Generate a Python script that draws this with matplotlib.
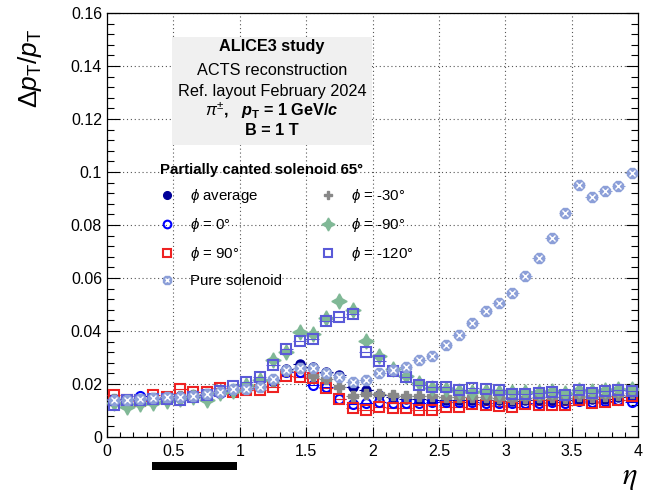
import numpy as np
import matplotlib
matplotlib.use("Agg")
import matplotlib.pyplot as plt
from matplotlib.ticker import MultipleLocator, FuncFormatter
from matplotlib.patches import Rectangle

plt.rcParams['font.family'] = ['Liberation Sans', 'DejaVu Sans']
plt.rcParams['mathtext.fontset'] = 'custom'
plt.rcParams['mathtext.rm'] = 'Liberation Sans'
plt.rcParams['mathtext.it'] = 'Liberation Sans:italic'
plt.rcParams['mathtext.bf'] = 'Liberation Sans:bold'
plt.rcParams['mathtext.bfit'] = 'Liberation Sans:italic:bold'

# ---- data: dpT/pT vs eta (bin centres) ----
eta = np.arange(40) * 0.1 + 0.05

phi_avg = [0.0142, 0.0140, 0.0145, 0.0148, 0.0150, 0.0155, 0.0160, 0.0163, 0.0170, 0.0178,
           0.0183, 0.0193, 0.0215, 0.0255, 0.0275, 0.0265, 0.0245, 0.0235, 0.0190, 0.0178,
           0.0160, 0.0150, 0.0145, 0.0142, 0.0140, 0.0140, 0.0138, 0.0140, 0.0140, 0.0138,
           0.0135, 0.0140, 0.0140, 0.0140, 0.0138, 0.0145, 0.0142, 0.0145, 0.0150, 0.0150]
phi_0 = [0.0145, 0.0140, 0.0153, 0.0145, 0.0148, 0.0150, 0.0158, 0.0160, 0.0165, 0.0175,
         0.0180, 0.0188, 0.0210, 0.0245, 0.0245, 0.0198, 0.0190, 0.0142, 0.0125, 0.0127,
         0.0131, 0.0128, 0.0127, 0.0130, 0.0131, 0.0131, 0.0132, 0.0131, 0.0128, 0.0130,
         0.0128, 0.0130, 0.0130, 0.0132, 0.0130, 0.0135, 0.0133, 0.0135, 0.0138, 0.0131]
phi_90 = [0.0160, 0.0140, 0.0135, 0.0160, 0.0152, 0.0180, 0.0170, 0.0170, 0.0186, 0.0170,
          0.0177, 0.0177, 0.0188, 0.0231, 0.0225, 0.0223, 0.0185, 0.0144, 0.0110, 0.0100,
          0.0113, 0.0110, 0.0110, 0.0100, 0.0100, 0.0113, 0.0113, 0.0123, 0.0122, 0.0118,
          0.0113, 0.0125, 0.0120, 0.0121, 0.0121, 0.0138, 0.0128, 0.0131, 0.0140, 0.0156]
phi_m30 = [0.0142, 0.0141, 0.0145, 0.0148, 0.0150, 0.0155, 0.0160, 0.0163, 0.0170, 0.0178,
           0.0183, 0.0192, 0.0210, 0.0250, 0.0262, 0.0230, 0.0220, 0.0190, 0.0156, 0.0164,
           0.0163, 0.0160, 0.0156, 0.0155, 0.0156, 0.0151, 0.0150, 0.0152, 0.0150, 0.0148,
           0.0145, 0.0148, 0.0150, 0.0150, 0.0148, 0.0155, 0.0152, 0.0155, 0.0160, 0.0165]
phi_m90 = [0.0130, 0.0113, 0.0125, 0.0130, 0.0135, 0.0145, 0.0150, 0.0140, 0.0165, 0.0175,
           0.0195, 0.0215, 0.0290, 0.0320, 0.0398, 0.0388, 0.0450, 0.0513, 0.0478, 0.0363,
           0.0306, 0.0255, 0.0230, 0.0203, 0.0185, 0.0180, 0.0175, 0.0170, 0.0172, 0.0168,
           0.0168, 0.0170, 0.0168, 0.0172, 0.0165, 0.0178, 0.0172, 0.0178, 0.0182, 0.0180]
phi_m120 = [0.0120, 0.0138, 0.0140, 0.0142, 0.0145, 0.0140, 0.0152, 0.0160, 0.0172, 0.0194,
            0.0207, 0.0226, 0.0270, 0.0332, 0.0362, 0.0370, 0.0436, 0.0454, 0.0463, 0.0319,
            0.0288, 0.0250, 0.0225, 0.0195, 0.0188, 0.0188, 0.0176, 0.0186, 0.0182, 0.0178,
            0.0163, 0.0163, 0.0166, 0.0168, 0.0159, 0.0178, 0.0166, 0.0174, 0.0179, 0.0174]
pure_sol = [0.0139, 0.0141, 0.0143, 0.0146, 0.0150, 0.0152, 0.0156, 0.0163, 0.0169, 0.0180,
            0.0182, 0.0188, 0.0218, 0.0253, 0.0262, 0.0261, 0.0241, 0.0226, 0.0206, 0.0214,
            0.0240, 0.0251, 0.0266, 0.0289, 0.0307, 0.0348, 0.0385, 0.0430, 0.0475, 0.0506,
            0.0545, 0.0608, 0.0674, 0.0750, 0.0844, 0.0951, 0.0904, 0.0928, 0.0948, 0.0995]

fig = plt.figure(figsize=(6.48, 4.94), dpi=100)
ax = fig.add_axes([0.165, 0.1154, 0.82, 0.8583])

ex = 0.05
kw = dict(xerr=ex, linestyle='none', elinewidth=0.8, capsize=0)

h_avg = ax.errorbar(eta, phi_avg, marker='o', ms=6.5, mfc='#000099', mec='#000099',
                    ecolor='#000099', zorder=3, **kw)
h_0 = ax.errorbar(eta, phi_0, marker='o', ms=6.5, mfc='none', mec='#0000ff', mew=1.5,
                  ecolor='#0000ff', zorder=3, **kw)
h_90 = ax.errorbar(eta, phi_90, marker='s', ms=7, mfc='none', mec='#ee2222', mew=1.5,
                   ecolor='#ee2222', zorder=3, **kw)
h_m30 = ax.errorbar(eta, phi_m30, marker='P', ms=7.5, mfc='#888888', mec='#888888',
                    ecolor='#888888', zorder=3, **kw)
h_m90 = ax.errorbar(eta, phi_m90, marker=(4, 1, 0), ms=11, mfc='#80b896', mec='#80b896',
                    ecolor='#80b896', zorder=3, **kw)
h_m120 = ax.errorbar(eta, phi_m120, marker='s', ms=7, mfc='none', mec='#5a5ad8', mew=1.5,
                     ecolor='#5a5ad8', zorder=4, **kw)
h_ps = ax.errorbar(eta, pure_sol, marker='8', ms=7.5, mfc='#8c9fd8', mec='#8c9fd8',
                   ecolor='#8c9fd8', zorder=5, **kw)
h_psx, = ax.plot(eta, pure_sol, linestyle='none', marker='x', ms=3.8, mec='white', mew=1.0,
                 zorder=6)

ax.set_xlim(0, 4)
ax.set_ylim(0, 0.16)
ax.xaxis.set_major_locator(MultipleLocator(0.5))
ax.xaxis.set_minor_locator(MultipleLocator(0.1))
ax.yaxis.set_major_locator(MultipleLocator(0.02))
ax.yaxis.set_minor_locator(MultipleLocator(0.004))
fmt = FuncFormatter(lambda v, p: '%g' % round(v, 4))
ax.xaxis.set_major_formatter(fmt)
ax.yaxis.set_major_formatter(fmt)
ax.tick_params(axis='both', which='both', direction='in', labelsize=11.5, width=0.8)
ax.tick_params(axis='y', which='both', right=True)
ax.tick_params(axis='y', which='major', length=9)
ax.tick_params(axis='y', which='minor', length=5)
ax.tick_params(axis='x', which='major', length=7, pad=5)
ax.tick_params(axis='x', which='minor', length=3.5)
for s in ax.spines.values():
    s.set_linewidth(0.9)
ax.grid(True, which='major', linestyle=(0, (1, 2.5)), color='#555555', linewidth=0.8, zorder=0)
ax.set_axisbelow(True)

ax.set_ylabel(r'$\Delta \mathit{p}_{\mathrm{T}}/\mathit{p}_{\mathrm{T}}$', fontsize=19)
ax.yaxis.set_label_coords(-0.118, 0.87)
fig.text(0.972, 0.035, r'$\eta$', fontsize=22, fontfamily='DejaVu Serif',
         ha='center', va='center', math_fontfamily='stix')

# info box
ax.add_patch(Rectangle((0.1224, 0.689), 0.3766, 0.254, transform=ax.transAxes,
                       facecolor='#f0f0f0', edgecolor='none', zorder=1.5))
cx = 0.311
fs = 11.7
ax.text(cx, 0.920, 'ALICE3 study', transform=ax.transAxes, ha='center', va='center',
        fontsize=fs, fontweight='bold', zorder=2)
ax.text(cx, 0.864, 'ACTS reconstruction', transform=ax.transAxes, ha='center', va='center',
        fontsize=fs, zorder=2)
ax.text(cx, 0.814, 'Ref. layout February 2024', transform=ax.transAxes, ha='center',
        va='center', fontsize=fs, zorder=2)
ax.text(cx, 0.769, r'$\pi^{\pm}$,   $\mathbfit{p}_{\mathbf{T}}$ = 1 GeV/$\mathbfit{c}$',
        transform=ax.transAxes, ha='center', va='center', fontsize=fs, fontweight='bold',
        zorder=2)
ax.text(cx, 0.722, 'B = 1 T', transform=ax.transAxes, ha='center', va='center',
        fontsize=fs, fontweight='bold', zorder=2)

# legend shows markers only (no error bars)
handles = [h_avg[0], h_0[0], h_90[0], (h_ps[0], h_psx), h_m30[0], h_m90[0], h_m120[0]]
labels = [r'$\phi$ average', r'$\phi$ = 0°', r'$\phi$ = 90°', 'Pure solenoid',
          r'$\phi$ = -30°', r'$\phi$ = -90°', r'$\phi$ = -120°']
leg = ax.legend(handles, labels, ncol=2, loc='upper left', bbox_to_anchor=(0.08, 0.672),
                frameon=False, fontsize=10.8, title='Partially canted solenoid 65°',
                title_fontproperties={'weight': 'bold', 'size': 10.8},
                alignment='left', handlelength=1.0, handletextpad=1.0,
                columnspacing=2.6, labelspacing=0.72, borderpad=0.2, markerscale=0.85)

# small black rectangle below the axis
fig.patches.append(Rectangle((0.2346, 0.0486), 0.131, 0.0162, transform=fig.transFigure,
                             facecolor='black', edgecolor='none'))

fig.savefig('out.png', dpi=100)
